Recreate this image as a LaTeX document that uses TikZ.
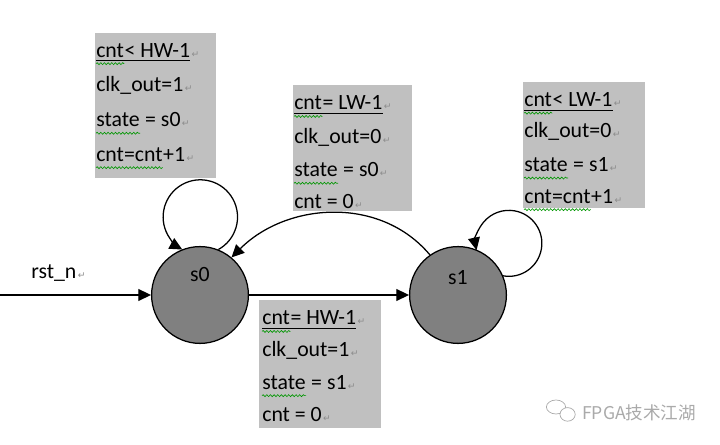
\documentclass[tikz,border=0pt]{standalone}
\usepackage{fontspec}
\setmainfont{Carlito}
\newfontfamily\retfont{DejaVu Sans}
\newfontfamily\cjkfont{Noto Sans CJK SC}
\usetikzlibrary{arrows.meta,decorations.pathmorphing}

\definecolor{boxgray}{RGB}{192,192,192}
\definecolor{stategray}{RGB}{128,128,128}
\definecolor{spellgreen}{RGB}{0,150,0}
\definecolor{markgray}{RGB}{140,140,140}
\definecolor{wmgray}{RGB}{170,170,170}

% paragraph mark after a line
\newcommand\retmark{\rlap{\hspace{1pt}{\retfont\fontsize{6.5}{6.5}\selectfont\textcolor{markgray}{↵}}}}

\begin{document}
\begin{tikzpicture}[
  state/.style={circle, draw, line width=0.9pt, fill=stategray, minimum size=2.42cm, inner sep=0pt},
  trans/.style={line width=0.9pt, -{Triangle[length=9pt,width=8.5pt]}},
  txt/.style={anchor=base west, inner sep=0pt, font=\fontsize{15.5}{18}\selectfont},
  uline/.style={line width=0.7pt},
  spell/.style={spellgreen, line width=0.45pt, decorate, decoration={snake, amplitude=0.7pt, segment length=2.6pt}}
]
\useasboundingbox (0,0) rectangle (18,-11.125);

% grey boxes
\fill[boxgray] (2.375,-0.825) rectangle (5.4,-4.45);
\fill[boxgray] (7.325,-2.125) rectangle (10.3,-5.275);
\fill[boxgray] (13.075,-2.05) rectangle (16.125,-5.2);
\fill[boxgray] (6.475,-7.5) rectangle (9.525,-10.7);

% s0 -> s0
\node[txt] (a1) at (2.4,-1.43) {cnt};
\node[txt] (a1x) at (a1.base east) {< HW-1\retmark};
\node[txt] (a2) at (2.4,-2.29) {clk\_out=1\retmark};
\node[txt] (a3) at (2.4,-3.17) {state};
\node[txt] (a3x) at (a3.base east) {\ = s0\retmark};
\node[txt] (a4) at (2.4,-4.03) {cnt=cnt};
\node[txt] (a4x) at (a4.base east) {+1\retmark};

% s1 -> s0
\node[txt] (b1) at (7.35,-2.75) {cnt};
\node[txt] (b1x) at (b1.base east) {= LW-1\retmark};
\node[txt] (b2) at (7.35,-3.58) {clk\_out=0\retmark};
\node[txt] (b3) at (7.35,-4.42) {state};
\node[txt] (b3x) at (b3.base east) {\ = s0\retmark};
\node[txt] (b4) at (7.35,-5.225) {cnt = 0\retmark};

% s1 -> s1
\node[txt] (c1) at (13.1,-2.667) {cnt};
\node[txt] (c1x) at (c1.base east) {< LW-1\retmark};
\node[txt] (c2) at (13.1,-3.45) {clk\_out=0\retmark};
\node[txt] (c3) at (13.1,-4.29) {state};
\node[txt] (c3x) at (c3.base east) {\ = s1\retmark};
\node[txt] (c4) at (13.1,-5.08) {cnt=cnt};
\node[txt] (c4x) at (c4.base east) {+1\retmark};

% s0 -> s1
\node[txt] (d1) at (6.55,-8.125) {cnt};
\node[txt] (d1x) at (d1.base east) {= HW-1\retmark};
\node[txt] (d2) at (6.55,-8.92) {clk\_out=1\retmark};
\node[txt] (d3) at (6.55,-9.73) {state};
\node[txt] (d3x) at (d3.base east) {\ = s1\retmark};
\node[txt] (d4) at (6.55,-10.54) {cnt = 0\retmark};

\foreach \n in {a1,b1,c1,d1}
  \draw[uline] ([yshift=-2.6pt]\n.base west) -- ([yshift=-2.6pt]\n x.base east);
\foreach \n in {a1,a3,a4,b1,b3,c1,c3,c4,d1,d3}
  \draw[spell] ([yshift=-4.6pt]\n.base west) -- ([yshift=-4.6pt]\n.base east);

% states
\node[state] (s0) at (5,-7.375) {};
\node[state] (s1) at (11.45,-7.375) {};
\node[txt, anchor=base] (s0txt) at (5,-7.05) {s0};
\node[txt, anchor=base] (s1txt) at (11.45,-7.125) {s1};

% transitions
\coordinate (rst) at (0,-7.375);
\node[txt] (rstlbl) at (0.775,-6.975) {rst\_n\retmark};
\draw[trans] (rst) -- (s0);
\draw[trans] (s0) -- (s1);
\draw[trans] (s1.125) to[out=130,in=45] (s0.50);
\draw[trans] (s0.68) arc[start angle=-61, end angle=241, radius=0.93cm];
\draw[trans] (s1.23) arc[start angle=-100, end angle=192, radius=0.825cm];

% watermark
\draw[wmgray, line width=0.5pt] (13.9,-10.175) ellipse (0.24 and 0.175);
\draw[wmgray, line width=0.5pt, fill=white] (14.19,-10.36) ellipse (0.19 and 0.17);
\node[anchor=west, inner sep=0pt, text=wmgray, font=\cjkfont\fontsize{12.5}{12.5}\selectfont] (wm) at (14.55,-10.33) {FPGA技术江湖};
\end{tikzpicture}
\end{document}
